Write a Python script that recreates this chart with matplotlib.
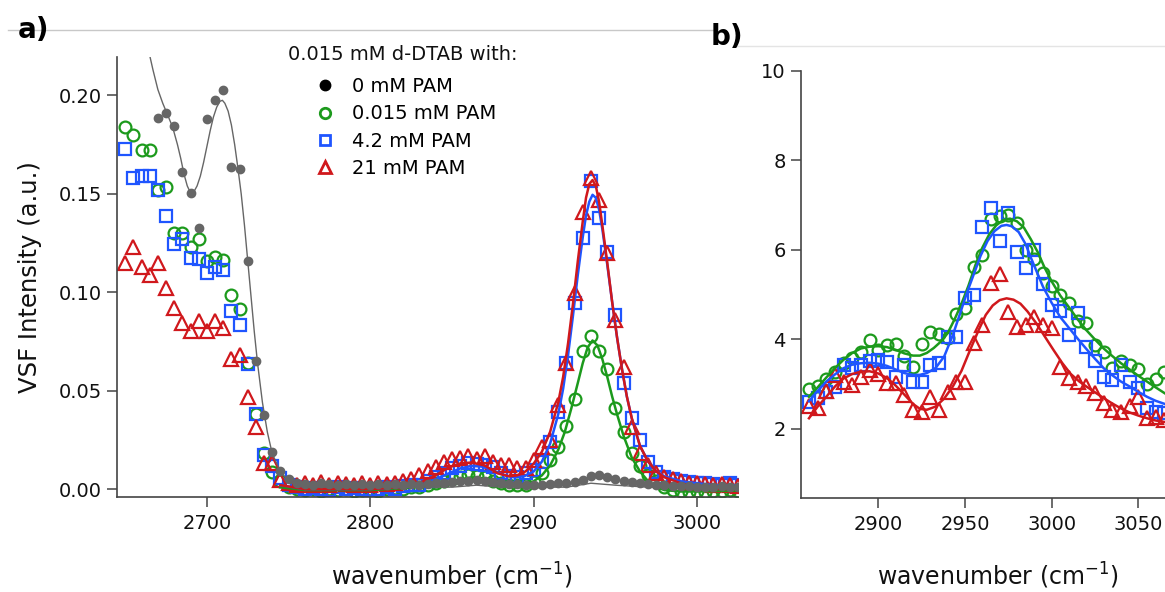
import numpy as np
import matplotlib
matplotlib.use("Agg")
import matplotlib.pyplot as plt
from matplotlib.lines import Line2D

plt.rcParams['font.family'] = ['DejaVu Sans']

GREEN = "#1c9a1c"
BLUE = "#1f55ff"
RED = "#d0181c"
GRAY = "#666666"
AXC = "#444444"

# ---------------- panel a data (wavenumber grid every 5 cm-1) ----------------
wn_a = np.arange(2650, 3026, 5)
wn_a_gray = np.arange(2670, 3026, 5)

green_a = [0.184, 0.180, 0.1724, 0.1724, 0.152, 0.1536, 0.130, 0.130, 0.1232, 0.1272,
           0.116, 0.1178, 0.1164, 0.0988, 0.0914, 0.064, 0.038, 0.0186, 0.0089, 0.004,
           0.001, 0.000, -0.0005, 0.000, -0.001, 0.000, -0.0005, 0.000, -0.001, -0.0005,
           0.000, -0.001, 0.000, 0.0005, 0.000, 0.001, 0.001, 0.002, 0.003, 0.004,
           0.005, 0.006, 0.007, 0.0065, 0.006, 0.004, 0.003, 0.002, 0.002, 0.002,
           0.0034, 0.0081, 0.0149, 0.0213, 0.0323, 0.0457, 0.0704, 0.078, 0.0702, 0.0609,
           0.0411, 0.0289, 0.0183, 0.0118, 0.0073, 0.0039, 0.001, -0.0004, -0.001, -0.0015,
           -0.001, -0.0015, -0.001, -0.001, -0.0005, -0.001]

blue_a = [0.1729, 0.1579, 0.159, 0.159, 0.1519, 0.1389, 0.1244, 0.1271, 0.1176, 0.1167,
          0.1096, 0.113, 0.1113, 0.0905, 0.0832, 0.0636, 0.038, 0.0174, 0.0115, 0.0056,
          0.002, 0.001, 0.000, 0.0005, 0.000, -0.0005, 0.001, 0.000, 0.0005, 0.000,
          -0.0005, 0.000, 0.001, 0.000, 0.0015, 0.002, 0.002, 0.004, 0.006, 0.008,
          0.0105, 0.012, 0.0135, 0.013, 0.0125, 0.011, 0.008, 0.0065, 0.006, 0.0081,
          0.0095, 0.014, 0.0237, 0.0394, 0.064, 0.0944, 0.1274, 0.1567, 0.1376, 0.1203,
          0.0885, 0.0538, 0.036, 0.025, 0.014, 0.0089, 0.0064, 0.005, 0.004, 0.0035,
          0.003, 0.003, 0.0025, 0.002, 0.003, 0.002]

red_a = [0.1147, 0.1232, 0.1127, 0.1088, 0.1147, 0.102, 0.0919, 0.0846, 0.0805, 0.0856,
         0.0805, 0.0856, 0.0817, 0.066, 0.0682, 0.047, 0.0318, 0.0135, 0.0132, 0.0047,
         0.003, 0.002, 0.003, 0.002, 0.0035, 0.002, 0.003, 0.0025, 0.002, 0.003,
         0.002, 0.003, 0.0025, 0.003, 0.004, 0.005, 0.007, 0.009, 0.011, 0.014,
         0.0155, 0.016, 0.0166, 0.0155, 0.0168, 0.014, 0.0123, 0.0123, 0.0107, 0.0107,
         0.0149, 0.0216, 0.025, 0.0428, 0.064, 0.0995, 0.1409, 0.1579, 0.1469, 0.1198,
         0.0859, 0.0622, 0.0318, 0.0183, 0.0123, 0.0081, 0.0064, 0.005, 0.004, 0.003,
         0.003, 0.0025, 0.002, 0.0025, 0.002, 0.0015]

gray_a = [0.1886, 0.1912, 0.1843, 0.1609, 0.1506, 0.1328, 0.188, 0.1975, 0.2027, 0.1638,
          0.1624, 0.116, 0.065, 0.0374, 0.0191, 0.0094, 0.005, 0.003, 0.0025, 0.002,
          0.003, 0.0025, 0.002, 0.0025, 0.002, 0.0025, 0.002, 0.0025, 0.002, 0.0025,
          0.002, 0.0025, 0.002, 0.0025, 0.003, 0.003, 0.0035, 0.004, 0.004, 0.0045,
          0.004, 0.0035, 0.003, 0.0025, 0.0025, 0.002, 0.002, 0.002, 0.0025, 0.003,
          0.003, 0.0035, 0.0045, 0.0065, 0.0073, 0.006, 0.005, 0.004, 0.0035, 0.003,
          0.0025, 0.002, 0.002, 0.0015, 0.0015, 0.0015, 0.001, 0.001, 0.001, 0.0015,
          0.001, 0.001]

# fit curves
gray_fit_x = [2664, 2667, 2670, 2673, 2676, 2679, 2682, 2684, 2686, 2688, 2690, 2692, 2694,
              2696, 2698, 2700, 2702, 2704, 2706, 2708, 2709.5, 2711, 2713, 2715, 2717, 2719,
              2721, 2723, 2725, 2727, 2729, 2731, 2734, 2737, 2740, 2745, 2750, 2755, 2760,
              2850, 2865, 2880, 2920, 2935, 2950, 2970, 3025]
gray_fit_y = [0.224, 0.213, 0.203, 0.196, 0.190, 0.184, 0.175, 0.168, 0.160, 0.154, 0.1505,
              0.151, 0.154, 0.159, 0.166, 0.174, 0.182, 0.189, 0.194, 0.197, 0.1975, 0.196,
              0.192, 0.185, 0.175, 0.163, 0.150, 0.134, 0.116, 0.098, 0.080, 0.064, 0.044,
              0.029, 0.018, 0.009, 0.004, 0.002, 0.001, 0.001, 0.002, 0.001, 0.001, 0.003,
              0.002, 0.001, 0.001]

red_fit_x = [2745, 2760, 2800, 2820, 2830, 2840, 2848, 2855, 2862, 2870, 2878, 2885, 2890,
             2895, 2900, 2905, 2910, 2915, 2918, 2921, 2924, 2927, 2930, 2932, 2934, 2936,
             2938, 2940, 2942, 2945, 2948, 2951, 2954, 2957, 2960, 2965, 2970, 2975, 2980,
             2990, 3000, 3010, 3025]
red_fit_y = [0.002, 0.000, 0.000, 0.001, 0.003, 0.007, 0.011, 0.013, 0.0135, 0.012, 0.008,
             0.0065, 0.007, 0.009, 0.013, 0.019, 0.029, 0.044, 0.057, 0.074, 0.094, 0.116,
             0.136, 0.148, 0.155, 0.157, 0.154, 0.146, 0.134, 0.115, 0.095, 0.077, 0.061,
             0.047, 0.036, 0.022, 0.014, 0.009, 0.006, 0.003, 0.001, 0.000, 0.000]

blue_fit_x = [2745, 2760, 2800, 2820, 2830, 2840, 2848, 2855, 2862, 2868, 2875, 2882, 2888,
              2894, 2900, 2905, 2910, 2915, 2918, 2921, 2924, 2927, 2930, 2932, 2934, 2936,
              2938, 2940, 2942, 2945, 2948, 2951, 2954, 2957, 2960, 2965, 2970, 2975, 2980,
              2990, 3000, 3010, 3025]
blue_fit_y = [0.002, 0.000, 0.000, 0.001, 0.002, 0.005, 0.008, 0.0105, 0.0118, 0.0115,
              0.0095, 0.007, 0.006, 0.0065, 0.009, 0.014, 0.023, 0.038, 0.051, 0.068, 0.088,
              0.109, 0.128, 0.139, 0.146, 0.1495, 0.148, 0.142, 0.132, 0.114, 0.095, 0.077,
              0.061, 0.047, 0.036, 0.022, 0.014, 0.009, 0.0065, 0.004, 0.003, 0.002, 0.002]

green_fit_x = [2745, 2760, 2800, 2830, 2845, 2855, 2862, 2870, 2878, 2888, 2895, 2900, 2905,
               2910, 2915, 2919, 2923, 2927, 2930, 2933, 2936, 2939, 2942, 2945, 2948, 2951,
               2955, 2960, 2965, 2970, 2975, 2980, 2990, 3000, 3010, 3025]
green_fit_y = [0.001, -0.0005, -0.0005, 0.001, 0.003, 0.005, 0.006, 0.0055, 0.004, 0.0025,
               0.0025, 0.004, 0.007, 0.012, 0.020, 0.029, 0.041, 0.054, 0.064, 0.072, 0.0755,
               0.073, 0.066, 0.057, 0.047, 0.038, 0.027, 0.016, 0.009, 0.004, 0.001, -0.0005,
               -0.0012, -0.0012, -0.001, -0.0008]

# ---------------- panel b data ----------------
wn_b = np.arange(2860, 3066, 5)

green_b = [2.887, 2.961, 3.11, 3.28, 3.468, 3.58, 3.728, 3.989, 3.765, 3.877,
           3.9, 3.639, 3.393, 3.9, 4.175, 4.123, 4.026, 4.57, 4.697, 5.62,
           5.88, 6.70, 6.77, 6.79, 6.61, 6.01, 5.81, 5.49, 5.2, 5.0,
           4.82, 4.42, 4.37, 3.87, 3.72, 3.36, 3.52, 3.44, 3.34, 3.0,
           3.11, 3.28]

blue_b = [2.61, 2.686, 2.834, 2.945, 3.43, 3.356, 3.43, 3.527, 3.542, 3.505,
          3.17, 3.43, 3.057, 3.057, 3.43, 3.468, 4.063, 4.063, 4.92, 4.994,
          6.52, 6.93, 6.21, 6.82, 5.96, 5.59, 6.0, 5.24, 4.77, 4.64,
          4.1, 4.585, 3.84, 3.527, 3.17, 3.095, 3.43, 3.057, 2.91, 2.46,
          2.39, 2.35]

red_b = [2.52, 2.48, 2.85, 3.2, 3.06, 2.98, 3.17, 3.32, 3.23, 3.02,
         3.02, 2.76, 2.42, 2.37, 2.72, 2.42, 2.83, 3.06, 3.06, 3.92,
         4.32, 5.26, 5.46, 4.62, 4.27, 4.32, 4.51, 4.32, 4.25, 3.39,
         3.13, 3.06, 2.95, 2.8, 2.57, 2.42, 2.37, 2.51, 2.72, 2.24,
         2.27, 2.2]

red_fit_bx = [2860, 2865, 2870, 2875, 2880, 2885, 2890, 2895, 2900, 2905, 2910, 2915, 2920,
              2924, 2928, 2933, 2938, 2943, 2948, 2953, 2958, 2962, 2966, 2970, 2974, 2978,
              2982, 2986, 2991, 2996, 3001, 3006, 3011, 3016, 3020, 3025, 3030, 3035, 3040,
              3045, 3050, 3055, 3060, 3066]
red_fit_by = [2.24, 2.5, 2.72, 2.95, 3.13, 3.23, 3.28, 3.29, 3.24, 3.14, 2.97, 2.77, 2.56,
              2.45, 2.43, 2.5, 2.68, 2.95, 3.3, 3.77, 4.22, 4.55, 4.76, 4.88, 4.92, 4.89,
              4.8, 4.63, 4.37, 4.07, 3.77, 3.48, 3.23, 3.06, 2.95, 2.82, 2.69, 2.57, 2.46,
              2.37, 2.3, 2.24, 2.19, 2.15]

blue_fit_bx = [2860, 2865, 2870, 2875, 2880, 2885, 2890, 2895, 2900, 2905, 2910, 2915, 2920,
               2924, 2928, 2933, 2938, 2943, 2947, 2951, 2955, 2959, 2963, 2967, 2971, 2974,
               2977, 2981, 2985, 2988, 2992, 2995, 3000, 3005, 3010, 3015, 3020, 3025, 3030,
               3035, 3040, 3045, 3050, 3055, 3060, 3066]
blue_fit_by = [2.62, 2.85, 3.06, 3.22, 3.36, 3.44, 3.47, 3.48, 3.46, 3.41, 3.33, 3.25, 3.21,
               3.21, 3.25, 3.36, 3.62, 4.1, 4.56, 5.03, 5.45, 5.87, 6.2, 6.42, 6.54, 6.56,
               6.53, 6.4, 6.13, 5.83, 5.46, 5.18, 4.82, 4.5, 4.26, 4.02, 3.79, 3.57, 3.36,
               3.2, 3.06, 2.95, 2.83, 2.72, 2.63, 2.55]

green_fit_bx = [2860, 2865, 2870, 2875, 2880, 2885, 2890, 2895, 2900, 2905, 2910, 2915, 2920,
                2924, 2928, 2932, 2936, 2940, 2944, 2948, 2952, 2956, 2960, 2964, 2968, 2972,
                2976, 2980, 2984, 2988, 2992, 2996, 3000, 3005, 3010, 3015, 3020, 3025, 3030,
                3035, 3040, 3045, 3050, 3055, 3060, 3066]
green_fit_by = [2.72, 2.93, 3.15, 3.36, 3.55, 3.7, 3.8, 3.84, 3.85, 3.83, 3.77, 3.69, 3.64,
                3.64, 3.7, 3.81, 3.95, 4.14, 4.45, 4.8, 5.2, 5.66, 6.05, 6.35, 6.55, 6.67,
                6.7, 6.64, 6.5, 6.24, 5.95, 5.6, 5.3, 4.98, 4.72, 4.45, 4.21, 4.0, 3.8,
                3.63, 3.47, 3.33, 3.19, 3.06, 2.93, 2.78]

legend_labels = ["0 mM PAM", "0.015 mM PAM", "4.2 mM PAM", "21 mM PAM"]


def style_axes(ax):
    ax.spines['top'].set_visible(False)
    ax.spines['right'].set_visible(False)
    ax.spines['left'].set_color(AXC)
    ax.spines['bottom'].set_color(AXC)
    ax.spines['left'].set_linewidth(1.2)
    ax.spines['bottom'].set_linewidth(1.2)
    ax.tick_params(direction='out', length=7, width=1.1, color=AXC,
                   labelsize=14, labelcolor='#111111')
    ax.tick_params(axis='x', pad=5)
    ax.tick_params(axis='y', pad=4)


W, H = 1165, 592
fig = plt.figure(figsize=(W / 100, H / 100), dpi=100)

# panel a
ax1 = fig.add_axes([117 / W, 1 - 497 / H, 621 / W, 440 / H])
style_axes(ax1)
mk = dict(ls='none', mfc='none', mew=1.6)
ax1.plot(wn_a, green_a, marker='o', ms=8.5, mec=GREEN, **mk)
ax1.plot(wn_a, blue_a, marker='s', ms=8, mec=BLUE, **mk)
ax1.plot(wn_a, red_a, marker='^', ms=10, mec=RED, **mk)
ax1.plot(green_fit_x, green_fit_y, color=GREEN, lw=1.8)
ax1.plot(blue_fit_x, blue_fit_y, color=BLUE, lw=1.8)
ax1.plot(red_fit_x, red_fit_y, color=RED, lw=1.8)
ax1.plot(wn_a_gray, gray_a, ls='none', marker='o', ms=6, color=GRAY)
ax1.plot(gray_fit_x, gray_fit_y, color=GRAY, lw=1.0)
ax1.set_xlim(2645, 3025)
ax1.set_ylim(-0.004, 0.2195)
ax1.set_xticks([2700, 2800, 2900, 3000])
ax1.set_yticks([0.00, 0.05, 0.10, 0.15, 0.20])
ax1.set_yticklabels(["%.2f" % v for v in [0.00, 0.05, 0.10, 0.15, 0.20]])

# panel b
ax2 = fig.add_axes([801 / W, 1 - 498 / H, 364 / W, 427 / H])
style_axes(ax2)
ax2.plot(wn_b, green_b, marker='o', ms=8.5, mec=GREEN, **mk)
ax2.plot(wn_b, blue_b, marker='s', ms=8, mec=BLUE, **mk)
ax2.plot(wn_b, red_b, marker='^', ms=10, mec=RED, **mk)
ax2.plot(green_fit_bx, green_fit_by, color=GREEN, lw=1.8)
ax2.plot(blue_fit_bx, blue_fit_by, color=BLUE, lw=1.8)
ax2.plot(red_fit_bx, red_fit_by, color=RED, lw=1.8)
ax2.set_xlim(2855.4, 3065.4)
ax2.set_ylim(0.458, 10)
ax2.set_xticks([2900, 2950, 3000, 3050])
ax2.set_yticks([2, 4, 6, 8, 10])

# legend
handles = [
    Line2D([], [], ls='none', marker='o', ms=7.5, color='black'),
    Line2D([], [], ls='none', marker='o', ms=7.5, mfc='none', mec=GREEN, mew=2),
    Line2D([], [], ls='none', marker='s', ms=7.5, mfc='none', mec=BLUE, mew=2),
    Line2D([], [], ls='none', marker='^', ms=9, mfc='none', mec=RED, mew=2),
]
fig.legend(handles, legend_labels, loc='upper left',
           bbox_to_anchor=(315 / W, 1 - 77 / H), bbox_transform=fig.transFigure,
           frameon=False, fontsize=14, handlelength=1.0, handletextpad=0.9,
           labelspacing=0.43, borderpad=0, borderaxespad=0)
fig.text(288 / W, 1 - 55 / H, "0.015 mM d-DTAB with:", fontsize=14,
         ha='left', va='center', color='#111111')

# axis labels
fig.text(30 / W, 1 - 277 / H, "VSF Intensity (a.u.)", rotation=90, fontsize=17.5,
         ha='center', va='center', color='#111111')
fig.text(452 / W, 1 - 585 / H, "wavenumber (cm$^{-1}$)", fontsize=17,
         ha='center', va='baseline', color='#111111')
fig.text(998 / W, 1 - 585 / H, "wavenumber (cm$^{-1}$)", fontsize=17,
         ha='center', va='baseline', color='#111111')

# panel separators and letters
fig.add_artist(Line2D([8 / W, 715 / W], [1 - 30 / H, 1 - 30 / H],
                      transform=fig.transFigure, color='#c8c8c8', lw=1))
fig.add_artist(Line2D([733 / W, 1.0], [1 - 46 / H, 1 - 46 / H],
                      transform=fig.transFigure, color='#e4e4e4', lw=1))
fig.text(18 / W, 1 - 30 / H, "a)", fontsize=20, fontweight='bold', ha='left', va='center')
fig.text(711 / W, 1 - 37 / H, "b)", fontsize=20, fontweight='bold', ha='left', va='center')

plt.savefig("out.png", dpi=100)
plt.close(fig)
